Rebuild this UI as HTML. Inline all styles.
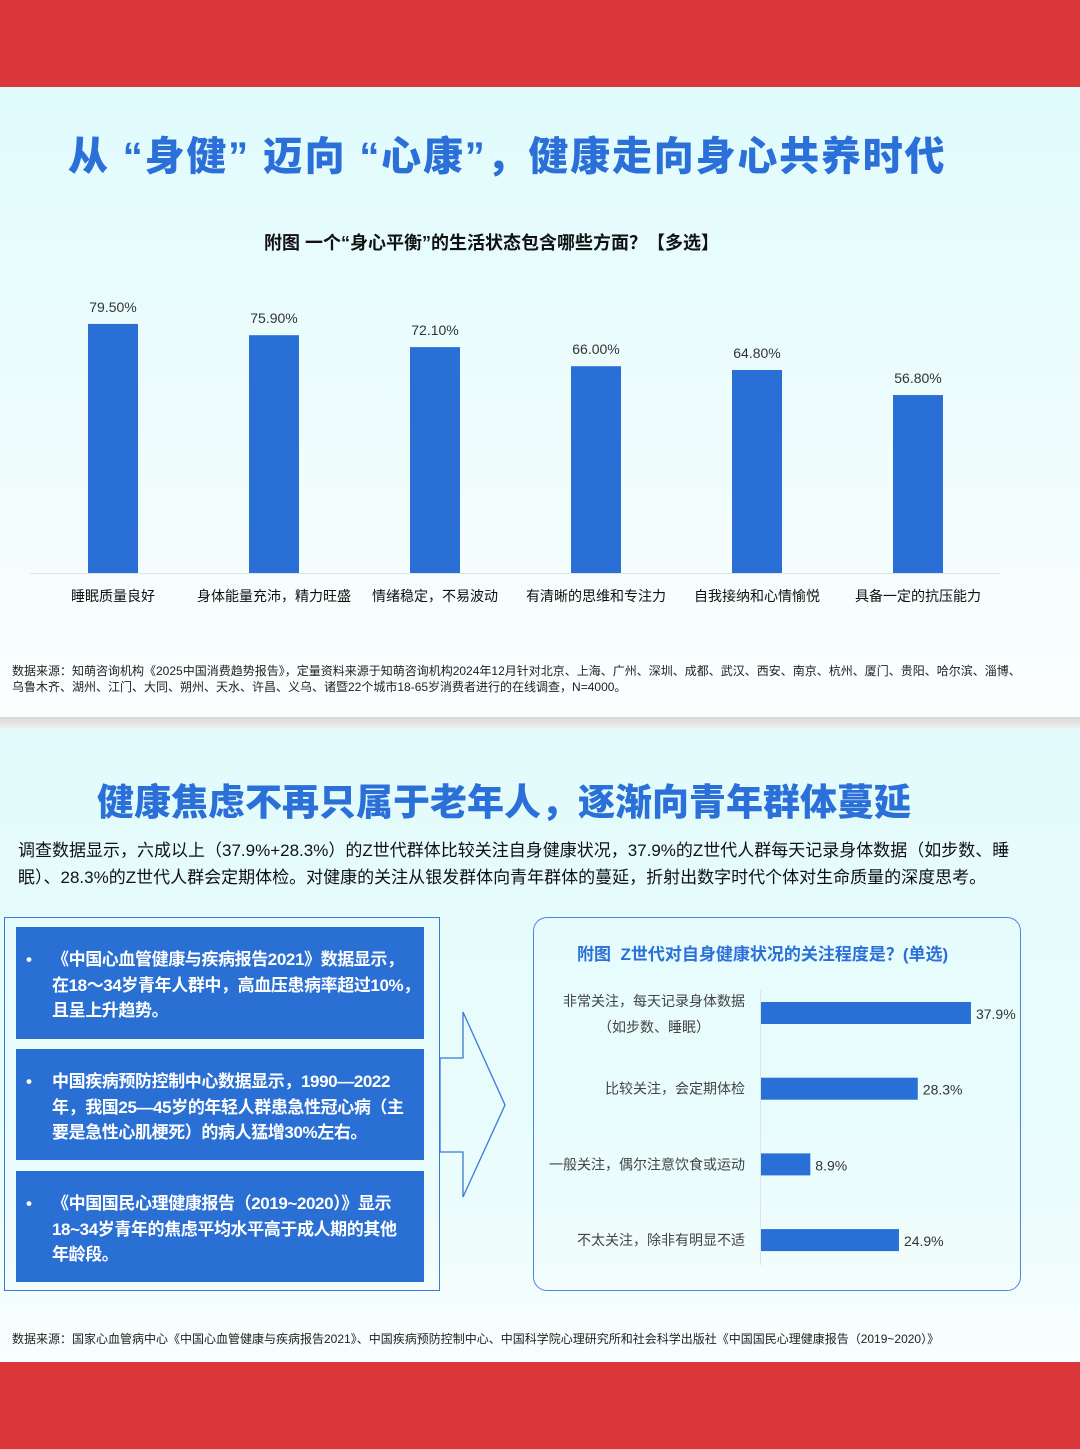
<!DOCTYPE html>
<html><head><meta charset="utf-8">
<style>
*{margin:0;padding:0;box-sizing:border-box}
body{width:1080px;height:1449px;position:relative;overflow:hidden;font-family:"Liberation Sans","Noto Sans CJK SC",sans-serif;background:#fff}
.abs{position:absolute;white-space:nowrap}
.title{color:#2b6fd8;font-weight:900;font-size:40px}
.ibox{position:absolute;left:16px;width:408px;background:#2a6fd4;color:#fff;font-weight:bold;font-size:17px;line-height:25.5px;padding:20px 0 0 36px;white-space:nowrap;letter-spacing:-0.4px}
.ibox span.b{position:absolute;left:10px;top:20px}
</style></head><body>
<div class="abs" style="left:0;top:0;width:1080px;height:87px;background:#db363a"></div>
<div class="abs" style="left:0;top:87px;width:1080px;height:630px;background:linear-gradient(#e0fbfc,#f3fdfd 70%,#fbfefe)"></div>
<div class="abs" style="left:0;top:717px;width:1080px;height:11px;background:linear-gradient(#d8d8d8,#eeeeee)"></div>
<div class="abs" style="left:0;top:728px;width:1080px;height:634px;background:linear-gradient(#e3fbfc,#eafcfc 70%,#f9fefe)"></div>
<div class="abs" style="left:0;top:1362px;width:1080px;height:87px;background:#db363a"></div>

<div class="abs title" style="left:68px;top:124px;letter-spacing:1.8px">从 “身健” 迈向 “心康”，健康走向身心共养时代</div>
<div class="abs" style="left:264px;top:229px;font-size:18px;font-weight:bold;color:#111">附图 一个“身心平衡”的生活状态包含哪些方面？【多选】</div>

<svg class="abs" id="c1" style="left:0;top:280px" width="1080" height="340"></svg>

<div class="abs" style="left:12px;top:663px;font-size:12px;line-height:16px;color:#222">数据来源：知萌咨询机构《2025中国消费趋势报告》，定量资料来源于知萌咨询机构2024年12月针对北京、上海、广州、深圳、成都、武汉、西安、南京、杭州、厦门、贵阳、哈尔滨、淄博、<br>乌鲁木齐、湖州、江门、大同、朔州、天水、许昌、义乌、诸暨22个城市18-65岁消费者进行的在线调查，N=4000。</div>

<div class="abs title" style="left:97px;top:772px;font-size:37px;letter-spacing:0">健康焦虑不再只属于老年人，逐渐向青年群体蔓延</div>
<div class="abs" style="left:18px;top:837px;font-size:17px;line-height:27px;color:#111">调查数据显示，六成以上（37.9%+28.3%）的Z世代群体比较关注自身健康状况，37.9%的Z世代人群每天记录身体数据（如步数、睡<br>眠）、28.3%的Z世代人群会定期体检。对健康的关注从银发群体向青年群体的蔓延，折射出数字时代个体对生命质量的深度思考。</div>

<div class="abs" style="left:4px;top:917px;width:436px;height:374px;border:1.5px solid #3b78d8"></div>
<div class="ibox" style="top:927px;height:112px"><span class="b">•</span>《中国心血管健康与疾病报告2021》数据显示，<br>在18～34岁青年人群中，高血压患病率超过10%，<br>且呈上升趋势。</div>
<div class="ibox" style="top:1049px;height:111px"><span class="b">•</span>中国疾病预防控制中心数据显示，1990—2022<br>年，我国25—45岁的年轻人群患急性冠心病（主<br>要是急性心肌梗死）的病人猛增30%左右。</div>
<div class="ibox" style="top:1171px;height:111px"><span class="b">•</span>《中国国民心理健康报告（2019~2020）》显示<br>18~34岁青年的焦虑平均水平高于成人期的其他<br>年龄段。</div>

<svg class="abs" style="left:0;top:0" width="1080" height="1449"><polygon points="440,1058 463,1058 463,1012 505,1105 463,1197 463,1152 440,1152" fill="none" stroke="#3b78d8" stroke-width="1.3"/></svg>

<div class="abs" style="left:533px;top:917px;width:488px;height:374px;border:1.5px solid #4a86e0;border-radius:14px"></div>
<div class="abs" style="left:577px;top:940px;font-size:17px;font-weight:bold;color:#2b6fd8">附图&nbsp; Z世代对自身健康状况的关注程度是？(单选)</div>
<svg class="abs" id="c2" style="left:0;top:0" width="1080" height="1449"></svg>

<div class="abs" style="left:12px;top:1330px;font-size:12px;color:#222">数据来源：国家心血管病中心《中国心血管健康与疾病报告2021》、中国疾病预防控制中心、中国科学院心理研究所和社会科学出版社《中国国民心理健康报告（2019~2020）》</div>

<script>
const cats1=["睡眠质量良好","身体能量充沛，精力旺盛","情绪稳定，不易波动","有清晰的思维和专注力","自我接纳和心情愉悦","具备一定的抗压能力"];
const vals1=[79.5,75.9,72.1,66.0,64.8,56.8];
const labels1=["79.50%","75.90%","72.10%","66.00%","64.80%","56.80%"];
const cats2=["非常关注，每天记录身体数据|（如步数、睡眠）","比较关注，会定期体检","一般关注，偶尔注意饮食或运动","不太关注，除非有明显不适"];
const vals2=[37.9,28.3,8.9,24.9];
const labels2=["37.9%","28.3%","8.9%","24.9%"];
const NS="http://www.w3.org/2000/svg";
function mk(p,t,a){const e=document.createElementNS(NS,t);for(const k in a)e.setAttribute(k,a[k]);p.appendChild(e);return e;}
const c1=document.getElementById('c1');
const base1=293, k1=3.133, x1=i=>113+i*161;
const ax=mk(c1,'line',{x1:30,x2:1000,y1:base1+0.5,y2:base1+0.5,stroke:'#dde3e6'});

vals1.forEach((v,i)=>{
 const h=v*k1;
 const r=mk(c1,'rect',{x:x1(i)-25,y:base1-h,width:50,height:h,fill:'#2a6fd6'});
 
 const t=mk(c1,'text',{x:x1(i),y:base1-h-12,'text-anchor':'middle','font-size':14,fill:'#333'});t.textContent=labels1[i];
 
 const c=mk(c1,'text',{x:x1(i),y:321,'text-anchor':'middle','font-size':14,fill:'#111'});c.textContent=cats1[i];
 
});
const c2=document.getElementById('c2');
const x0=760,k2=5.54,yc=i=>1013+i*75.7;
const ax2=mk(c2,'line',{x1:x0+0.5,x2:x0+0.5,y1:990,y2:1265,stroke:'#dde3e6'});

vals2.forEach((v,i)=>{
 const w=v*k2;
 const r=mk(c2,'rect',{x:x0+1,y:yc(i)-11,width:w,height:22,fill:'#2a6fd6'});
 
 const t=mk(c2,'text',{x:x0+w+6,y:yc(i)+6,'font-size':14,fill:'#333'});t.textContent=labels2[i];
 
 const parts=cats2[i].split('|');
 parts.forEach((p,j)=>{
  const yy=parts.length>1?yc(i)-7+j*26:yc(i)+5;
  const c=mk(c2,'text',{x:745,y:yy,'text-anchor':'end','font-size':14,fill:'#444'});c.textContent=p;
  if(j==1){c.setAttribute('text-anchor','start');c.setAttribute('x',598);}
  
 });
});
</script>
</body></html>
